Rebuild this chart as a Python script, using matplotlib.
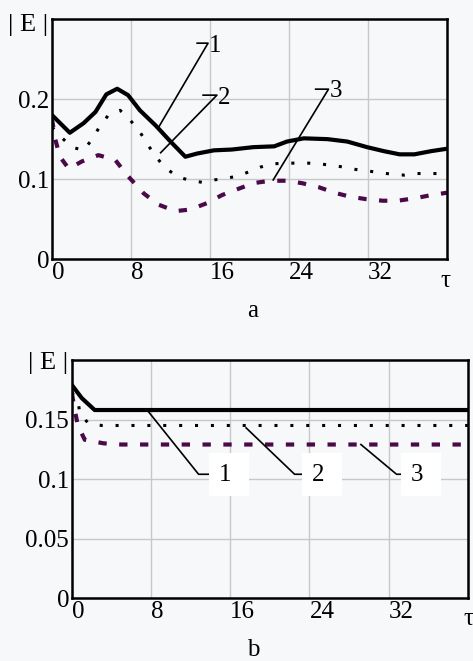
import matplotlib.pyplot as plt

plt.rcParams['font.family'] = ['Liberation Serif', 'DejaVu Serif']

# panel a data
a1_t = [0, 1.8, 3.2, 4.4, 5.5, 6.6, 7.7, 8.9, 10.5, 12.0, 13.5, 14.7, 16.4, 18.2,
        20.4, 22.5, 23.8, 25.5, 27.9, 29.9, 31.9, 33.6, 35.2, 36.7, 38.4, 40]
a1_E = [0.180, 0.158, 0.170, 0.184, 0.206, 0.213, 0.205, 0.186, 0.167, 0.147, 0.128,
        0.132, 0.136, 0.137, 0.140, 0.141, 0.147, 0.151, 0.150, 0.147, 0.140, 0.135,
        0.131, 0.131, 0.135, 0.138]
a2_t = [0, 0.8, 2.0, 3.2, 4.0, 4.7, 5.7, 6.9, 7.9, 8.9, 9.6, 10.5, 11.5, 12.7, 13.8,
        15.2, 16.4, 17.6, 18.9, 19.9, 21.1, 22.3, 23.5, 24.8, 26.0, 27.2, 28.4, 29.6,
        30.8, 32.1, 33.3, 34.5, 35.7, 37.0, 38.2, 40]
a2_E = [0.165, 0.154, 0.140, 0.136, 0.149, 0.163, 0.180, 0.186, 0.174, 0.159, 0.145,
        0.128, 0.114, 0.103, 0.099, 0.096, 0.099, 0.101, 0.104, 0.109, 0.115, 0.119,
        0.120, 0.120, 0.120, 0.119, 0.117, 0.115, 0.112, 0.110, 0.108, 0.106, 0.105,
        0.107, 0.107, 0.107]
a3_t = [0, 0.3, 0.8, 1.7, 3.0, 4.7, 6.4, 7.6, 9.3, 10.8, 12.5, 14.0, 15.7, 17.2, 18.9,
        20.4, 22.1, 23.7, 25.3, 27.0, 28.6, 30.2, 31.8, 33.5, 35.0, 36.7, 38.4, 40]
a3_E = [0.175, 0.151, 0.128, 0.113, 0.122, 0.130, 0.124, 0.105, 0.082, 0.068, 0.060,
        0.062, 0.070, 0.080, 0.088, 0.095, 0.098, 0.098, 0.095, 0.090, 0.083, 0.078,
        0.075, 0.073, 0.073, 0.076, 0.080, 0.083]

# panel b data
b1_t = [0, 1.0, 2.3, 40]
b1_E = [0.179, 0.168, 0.158, 0.158]
b2_t = [0, 0.65, 0.8, 1.65, 3.0, 40]
b2_E = [0.173, 0.164, 0.155, 0.147, 0.145, 0.145]
b3_t = [0, 0.27, 0.6, 1.3, 3.2, 5.0, 40]
b3_E = [0.172, 0.159, 0.145, 0.133, 0.130, 0.129, 0.129]

x_ticks = [0, 8, 16, 24, 32]

# leader lines: (label, text x, text y, elbow points)
a_leaders = [('1', 15.9, 0.267, [(10.8, 0.165), (15.8, 0.27), (14.7, 0.27)]),
             ('2', 16.8, 0.202, [(11.0, 0.133), (16.7, 0.205), (15.3, 0.205)]),
             ('3', 28.1, 0.210, [(22.4, 0.099), (28.0, 0.2125), (26.7, 0.2125)])]
b_leaders = [('1', 14.9, 0.1035, [(7.6, 0.158), (12.8, 0.104), (14.3, 0.104)]),
             ('2', 24.3, 0.1035, [(17.6, 0.143), (22.5, 0.104), (23.8, 0.104)]),
             ('3', 34.3, 0.1035, [(29.2, 0.129), (32.8, 0.104), (33.8, 0.104)])]

bg = '#f7f8fa'
purple = '#4a0a4a'
fs = 18

fig = plt.figure(figsize=(4.73, 6.61), dpi=100, facecolor=bg)
ax1 = fig.add_axes([0.110, 0.608, 0.835, 0.363])
ax2 = fig.add_axes([0.152, 0.0953, 0.837, 0.360])


def style(ax, yticks, ylabels, ymax):
    ax.set_facecolor(bg)
    ax.set_xlim(0, 40)
    ax.set_ylim(0, ymax)
    ax.set_xticks(x_ticks)
    ax.set_xticklabels([str(t) for t in x_ticks], ha='left', fontsize=fs)
    ax.set_yticks(yticks)
    ax.set_yticklabels(ylabels, fontsize=fs)
    ax.tick_params(length=0, pad=2)
    ax.grid(True, color='#c8c8c8', lw=1.0)
    for s in ax.spines.values():
        s.set_linewidth(1.8)
        s.set_color('black')


style(ax1, [0, 0.1, 0.2], ['0', '0.1', '0.2'], 0.3)
ax1.plot(a1_t, a1_E, color='black', lw=3.0, solid_joinstyle='round')
ax1.plot(a2_t, a2_E, color='black', lw=2.2, dashes=(1, 4.2))
ax1.plot(a3_t, a3_E, color=purple, lw=3.0, dashes=(2.0, 3.0))
for lab, tx, ty, pts in a_leaders:
    ax1.plot([p[0] for p in pts], [p[1] for p in pts], color='black', lw=1.2)
    ax1.text(tx, ty, lab, fontsize=fs, ha='left', va='center')

style(ax2, [0, 0.05, 0.1, 0.15], ['0', '0.05', '0.1', '0.15'], 0.2)
ax2.plot(b1_t, b1_E, color='black', lw=3.0)
ax2.plot(b2_t, b2_E, color='black', lw=2.2, dashes=(1, 4.2))
ax2.plot(b3_t, b3_E, color=purple, lw=3.0, dashes=(2.0, 3.0))
for lab, tx, ty, pts in b_leaders:
    ax2.plot([p[0] for p in pts], [p[1] for p in pts], color='black', lw=1.2)
    ax2.text(tx, ty, lab + ' ', fontsize=fs, ha='left', va='center',
             bbox=dict(boxstyle='square,pad=0.42', fc='white', ec='none'))

# axis captions
fig.text(8 / 473, 1 - 25 / 661, '| E |', fontsize=fs + 1, va='center', ha='left')
fig.text(445 / 473, 1 - 281 / 661, 'τ', fontsize=fs, va='center', ha='center')
fig.text(253 / 473, 1 - 311 / 661, 'a', fontsize=fs, va='center', ha='center')
fig.text(28 / 473, 1 - 363 / 661, '| E |', fontsize=fs + 1, va='center', ha='left')
fig.text(468 / 473, 1 - 619 / 661, 'τ', fontsize=fs, va='center', ha='center')
fig.text(253 / 473, 1 - 650 / 661, 'b', fontsize=fs, va='center', ha='center')

fig.savefig('out.png', dpi=100, facecolor=bg)
